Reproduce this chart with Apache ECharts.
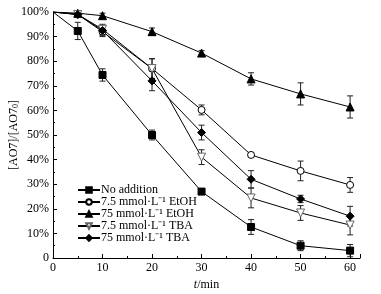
<!DOCTYPE html>
<html>
<head>
<meta charset="utf-8">
<script src="https://cdn.jsdelivr.net/npm/echarts@6/dist/echarts.min.js"></script>
<style>
  html, body { margin: 0; padding: 0; background: #fff; }
  #chart { width: 381px; height: 294px; }
</style>
</head>
<body>
<div id="chart"></div>
<script>
  // 时间 (min)
  var times = [0, 5, 10, 20, 30, 40, 50, 60];
  var names = ['No addition', '7.5 mmol·L⁻¹ EtOH', '75 mmol·L⁻¹ EtOH', '7.5 mmol·L⁻¹ TBA', '75 mmol·L⁻¹ TBA'];

  // [AO7]/[AO7]0 (%)
  var noAddition = [100, 92.3, 74.4, 50, 27, 12.6, 5, 3];
  var etoh75mM = [100, 99, 92, 77, 60.2, 41.9, 35.4, 29.7];   // 7.5 mmol/L EtOH
  var etoh75M = [100, 99.5, 98.5, 92, 83.3, 72.8, 66.7, 61.4]; // 75 mmol/L EtOH
  var tba75mM = [100, 99, 93, 77, 41, 24.4, 18.3, 13.4];       // 7.5 mmol/L TBA
  var tba75M = [100, 99, 92.5, 72, 51, 32, 24, 17];            // 75 mmol/L TBA

  // 误差
  var errNo = [0, 3.5, 2.5, 2, 1, 3, 2, 2.5];
  var errEtohA = [0, 1, 2, 4, 2, 1, 4, 3];
  var errEtohB = [0, 0.5, 1, 1.5, 1, 2.5, 4.5, 4.5];
  var errTbaA = [0, 1, 2, 4, 3, 4, 3, 4];
  var errTbaB = [0, 1, 2, 4, 3, 3.5, 1.5, 4];

  var values = [noAddition, etoh75mM, etoh75M, tba75mM, tba75M];
  var errors = [errNo, errEtohA, errEtohB, errTbaA, errTbaB];
  var symbols = ['rect', 'circle', 'triangle', 'path://M0,0 L10,0 L5,9 Z', 'diamond'];
  var fills = ['#000', '#fff', '#000', '#fff', '#000'];
  var borders = ['#000', '#000', '#000', '#666', '#000'];
  var sizes = [7, 7, 8, 8, 8];

  var font = 'Liberation Serif, Times New Roman, serif';
  var chart = echarts.init(document.getElementById('chart'));

  var series = [];
  values.forEach(function (vals, i) {
    series.push({
      name: names[i],
      type: 'line',
      data: times.map(function (t, j) {
        // t=0 处没有标记
        return j === 0 ? { value: [t, vals[j]], symbol: 'none' } : [t, vals[j]];
      }),
      symbol: symbols[i],
      symbolSize: sizes[i],
      lineStyle: { color: '#000', width: 1 },
      itemStyle: { color: fills[i], borderColor: borders[i], borderWidth: 1 },
      z: 3
    });
    // 误差线
    series.push({
      type: 'custom',
      silent: true,
      z: 2,
      data: times.map(function (t, j) { return [t, vals[j] - errors[i][j], vals[j] + errors[i][j]]; }),
      renderItem: function (params, api) {
        if (api.value(2) - api.value(1) <= 0) return null;
        var lo = api.coord([api.value(0), api.value(1)]);
        var hi = api.coord([api.value(0), api.value(2)]);
        var w = 3;
        var st = { stroke: '#222', lineWidth: 1 };
        return {
          type: 'group',
          children: [
            { type: 'line', shape: { x1: lo[0], y1: lo[1], x2: hi[0], y2: hi[1] }, style: st },
            { type: 'line', shape: { x1: lo[0] - w, y1: lo[1], x2: lo[0] + w, y2: lo[1] }, style: st },
            { type: 'line', shape: { x1: hi[0] - w, y1: hi[1], x2: hi[0] + w, y2: hi[1] }, style: st }
          ]
        };
      }
    });
  });

  chart.setOption({
    animation: false,
    textStyle: { fontFamily: font },
    grid: { left: 53, right: 21, top: 12, bottom: 36, outerBoundsMode: 'none', containLabel: false },
    legend: {
      data: names,
      orient: 'vertical',
      left: 72,
      top: 179,
      itemWidth: 22,
      itemHeight: 7,
      itemGap: 0,
      textStyle: { fontFamily: font, fontSize: 12, color: '#000', lineHeight: 12, padding: [0, 0, 0, -4] }
    },
    xAxis: {
      type: 'value',
      min: 0,
      max: 62,
      interval: 10,
      name: '{i|t}/min',
      nameLocation: 'middle',
      nameGap: 21,
      nameMoveOverlap: false,
      nameTextStyle: { fontFamily: font, fontSize: 12, color: '#000', rich: { i: { fontStyle: 'italic', fontFamily: font, fontSize: 12 } } },
      axisLine: { lineStyle: { color: '#000', width: 1 } },
      axisTick: { inside: true, length: 4, lineStyle: { color: '#000' } },
      minorTick: { show: true, splitNumber: 2, length: 2, lineStyle: { color: '#000' } },
      axisLabel: {
        color: '#000', fontSize: 12, fontFamily: font, margin: 4,
        formatter: function (v) { return v % 10 === 0 ? String(v) : ''; }
      },
      splitLine: { show: false }
    },
    yAxis: {
      type: 'value',
      min: 0,
      max: 100,
      interval: 10,
      name: '[AO7]/[AO7{s|0}]',
      nameLocation: 'middle',
      nameGap: 33,
      nameMoveOverlap: false,
      nameRotate: 90,
      nameTextStyle: { fontFamily: font, fontSize: 12, color: '#000', rich: { s: { fontSize: 8, verticalAlign: 'bottom', fontFamily: font } } },
      axisLine: { show: true, lineStyle: { color: '#000', width: 1 } },
      axisTick: { inside: true, length: 4, lineStyle: { color: '#000' } },
      minorTick: { show: true, splitNumber: 2, length: 2, lineStyle: { color: '#000' } },
      axisLabel: {
        color: '#000', fontSize: 12, fontFamily: font, margin: 4,
        formatter: function (v) { return v === 0 ? '0' : v + '%'; }
      },
      splitLine: { show: false }
    },
    series: series
  });
</script>
</body>
</html>
